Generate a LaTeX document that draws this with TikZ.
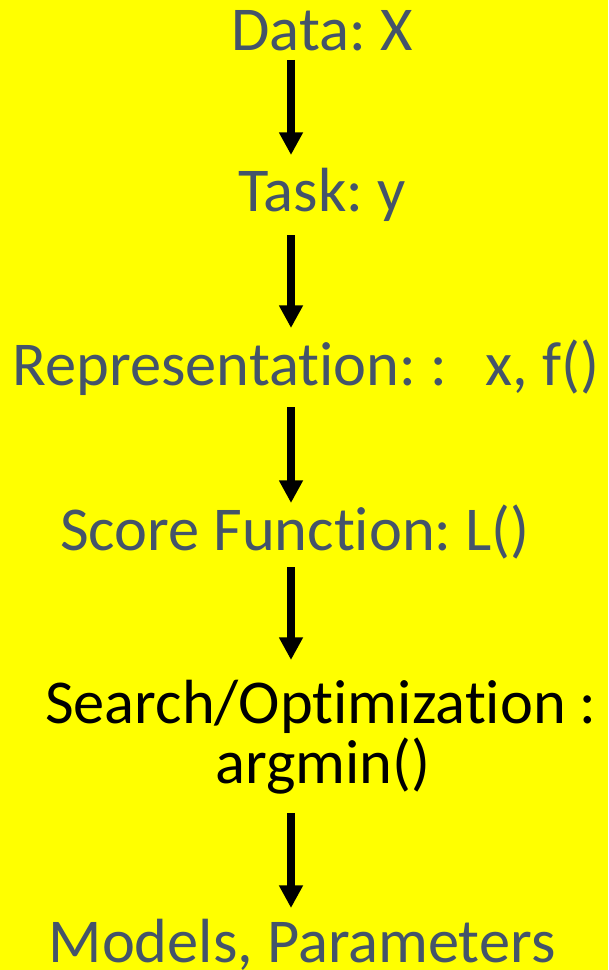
\documentclass[tikz,border=0pt]{standalone}
\usepackage{fontspec}
\setmainfont[Ligatures=NoCommon]{Carlito}
\usetikzlibrary{arrows.meta,calc}
\definecolor{slidegrey}{HTML}{44546A}
\definecolor{slideyellow}{HTML}{FFFF00}
\frenchspacing
\tikzset{
	step label/.style={anchor=base, inner sep=0pt, text=slidegrey, font=\fontsize{46.8pt}{56pt}\selectfont},
	flow/.style={line width=6pt, -{Triangle[width=17pt,length=17pt]}}
}

\begin{document}
\begin{tikzpicture}[x=0.75pt, y=-0.75pt]
		%%%%% START %%%%%
		
		\fill[slideyellow] (0, 0) rectangle (608, 970);
		\useasboundingbox (0, 0) rectangle (608, 970);
		
		\coordinate (col) at (291, 0);
		
		\node[step label] (data) at (322, 51) {Data: X};
		\node[step label] (task) at (322, 211) {Task: y};
		\node[step label] (repr) at (306, 385) {Representation: :\hspace{29pt}x, f()};
		\node[step label] (score) at (295, 550) {Score Function: L()};
		\node[step label, text=black] (search) at (321, 723) {Search/Optimization :};
		\node[step label, text=black] (argmin) at (323, 783) {argmin()};
		\node[step label] (models) at (302, 962) {Models, Parameters};
		
		\draw[flow] ($(data.base -| col)+(0, 9)$) -- ($(task.base -| col)+(0, -56)$);
		\draw[flow] ($(task.base -| col)+(0, 24)$) -- ($(repr.base -| col)+(0, -57)$);
		\draw[flow] ($(repr.base -| col)+(0, 22)$) -- ($(score.base -| col)+(0, -47)$);
		\draw[flow] ($(score.base -| col)+(0, 17)$) -- ($(search.base -| col)+(0, -63)$);
		\draw[flow] ($(argmin.base -| col)+(0, 30)$) -- ($(models.base -| col)+(0, -54)$);
		
		%%%%% END %%%%%
\end{tikzpicture}
\end{document}
